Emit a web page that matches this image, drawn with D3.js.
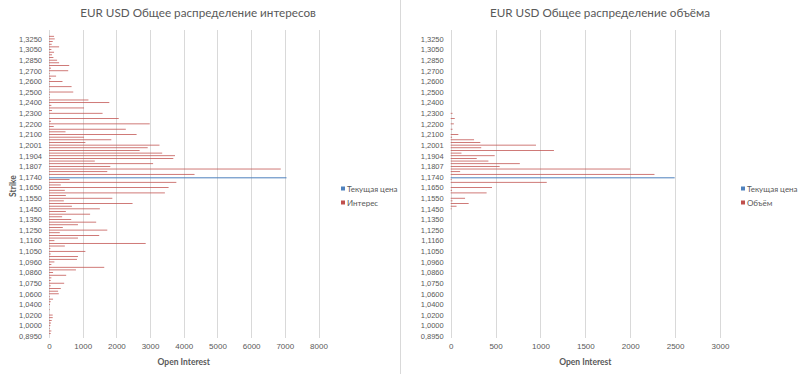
<!DOCTYPE html>
<html>
<head>
<meta charset="utf-8">
<script src="https://cdn.jsdelivr.net/npm/d3@7"></script>
<style>
  body { margin: 0; background: #fff; }
  svg { display: block; font-family: Lato, 'Open Sans', sans-serif; }
</style>
</head>
<body>
<svg></svg>
<script>

// strikes, bottom to top (only every 4th one is labelled on the axis)
const strikes = [
  '0,8950', '0,9500', '0,9800', '0,9900', '1,0000', '1,0050', '1,0100', '1,0150',
  '1,0200', '1,0250', '1,0300', '1,0350', '1,0400', '1,0450', '1,0500', '1,0550',
  '1,0600', '1,0650', '1,0700', '1,0725', '1,0750', '1,0775', '1,0800', '1,0830',
  '1,0860', '1,0880', '1,0900', '1,0930', '1,0960', '1,0980', '1,1000', '1,1025',
  '1,1050', '1,1080', '1,1100', '1,1130', '1,1160', '1,1180', '1,1200', '1,1225',
  '1,1250', '1,1275', '1,1300', '1,1325', '1,1350', '1,1375', '1,1400', '1,1425',
  '1,1450', '1,1475', '1,1500', '1,1525', '1,1550', '1,1575', '1,1600', '1,1625',
  '1,1650', '1,1675', '1,1700', '1,1720', '1,1740', '1,1750', '1,1770', '1,1790',
  '1,1807', '1,1830', '1,1850', '1,1880', '1,1904', '1,1930', '1,1950', '1,1980',
  '1,2001', '1,2025', '1,2050', '1,2075', '1,2100', '1,2125', '1,2150', '1,2175',
  '1,2200', '1,2225', '1,2250', '1,2275', '1,2300', '1,2325', '1,2350', '1,2375',
  '1,2400', '1,2425', '1,2450', '1,2475', '1,2500', '1,2525', '1,2550', '1,2575',
  '1,2600', '1,2625', '1,2650', '1,2675', '1,2700', '1,2750', '1,2800', '1,2825',
  '1,2850', '1,2900', '1,2950', '1,3000', '1,3050', '1,3100', '1,3150', '1,3200',
  '1,3250', '1,3300', '1,3350', '1,3400'
]

// open interest per strike (same order)
const interest = [
  0, 50, 70, 20, 40, 60, 80, 110,
  110, 0, 20, 0, 30, 50, 120, 20,
  290, 270, 350, 50, 450, 50, 70, 510,
  120, 800, 1640, 70, 160, 830, 860, 50,
  1080, 40, 470, 2870, 160, 860, 1490, 320,
  1730, 410, 860, 1400, 660, 390, 1220, 500,
  1510, 680, 2480, 440, 1880, 500, 3440, 470,
  3550, 350, 3780, 610, 0, 4320, 1730, 6880,
  1820, 3090, 1360, 3690, 3740, 3360, 2690, 2930,
  3280, 1080, 1850, 1040, 2600, 490, 2280, 140,
  2990, 60, 2070, 0, 1590, 90, 1040, 70,
  1790, 1170, 20, 20, 720, 10, 670, 20,
  400, 60, 210, 20, 570, 60, 600, 300,
  240, 130, 90, 150, 70, 300, 80, 110,
  170, 150, 0, 0
]

// volume per strike (same order)
const volume = [
  0, 0, 0, 0, 0, 0, 0, 0,
  0, 0, 0, 0, 0, 0, 0, 0,
  0, 0, 0, 0, 0, 0, 0, 0,
  0, 0, 0, 0, 0, 0, 0, 0,
  0, 0, 0, 0, 0, 0, 0, 0,
  0, 0, 0, 0, 0, 0, 0, 0,
  10, 65, 200, 20, 160, 0, 400, 15,
  460, 0, 1070, 10, 0, 2270, 105, 2000,
  545, 770, 420, 290, 490, 120, 1150, 340,
  950, 330, 260, 15, 85, 0, 20, 0,
  35, 0, 45, 0, 20, 0, 0, 0,
  0, 0, 0, 0, 0, 0, 0, 0,
  0, 0, 0, 0, 0, 0, 0, 0,
  0, 0, 0, 0, 0, 0, 0, 0,
  0, 0, 0, 0
]

// current price marker
const currentStrike = '1,1740'
const currentPriceInterest = 7050
const currentPriceVolume = 2495

const ticksInterest = [0, 1000, 2000, 3000, 4000, 5000, 6000, 7000, 8000]
const ticksVolume = [0, 500, 1000, 1500, 2000, 2500, 3000]

const RED = '#c0504d', BLUE = '#4f81bd', TEXT = '#595959', GRID = '#d9d9d9'

let svg = d3.select('svg').attr('width', 800).attr('height', 374)

svg.append('rect').attr('width', 800).attr('height', 374).attr('fill', '#fff')

// divider between the two charts
svg.append('line')
  .attr('x1', 400.5).attr('x2', 400.5)
  .attr('y1', 0).attr('y2', 374)
  .attr('stroke', GRID)

drawChart({
  title: 'EUR USD Общее распределение интересов',
  titleX: 198,
  left: 49, right: 318.5,
  values: interest, price: currentPriceInterest,
  ticks: ticksInterest,
  seriesName: 'Интерес',
  legendX: 341,
  yTitle: true
})

drawChart({
  title: 'EUR USD Общее распределение объёма',
  titleX: 600,
  left: 450.7, right: 720,
  values: volume, price: currentPriceVolume,
  ticks: ticksVolume,
  seriesName: 'Объём',
  legendX: 741,
  yTitle: false
})


function drawChart(cfg) {

  let top = 30, bottom = 338
  let g = svg.append('g')

  let x = d3.scaleLinear()
    .domain([0, cfg.ticks[cfg.ticks.length - 1]])
    .range([cfg.left, cfg.right])

  let y = d3.scaleBand()
    .domain(strikes)
    .range([bottom, top])

  let sub = d3.scaleBand()
    .domain(['value', 'price'])
    .range([0, y.bandwidth()])
    .paddingOuter(0.75)

  g.append('text')
    .attr('x', cfg.titleX).attr('y', 17)
    .attr('text-anchor', 'middle')
    .attr('font-size', 11.7)
    .attr('fill', TEXT)
    .text(cfg.title)

  // grid
  g.append('g')
    .selectAll('line')
    .data(cfg.ticks)
    .enter().append('line')
    .attr('x1', d => Math.round(x(d)) + 0.5)
    .attr('x2', d => Math.round(x(d)) + 0.5)
    .attr('y1', top).attr('y2', bottom)
    .attr('stroke', GRID)

  let xAxis = g.append('g')
    .attr('transform', 'translate(0,' + bottom + ')')
    .call(d3.axisBottom(x).tickValues(cfg.ticks).tickSize(0).tickPadding(5).tickFormat(d3.format('d')))
  xAxis.select('.domain').remove()
  xAxis.selectAll('text').attr('fill', TEXT).attr('font-size', 8)

  let yAxis = g.append('g')
    .attr('transform', 'translate(' + cfg.left + ',0)')
    .call(d3.axisLeft(y).tickValues(strikes.filter((d, i) => i % 4 === 0)).tickSize(0).tickPadding(7))
  yAxis.select('.domain').remove()
  yAxis.selectAll('text').attr('fill', TEXT).attr('font-size', 7.5)

  // bars
  g.append('g')
    .selectAll('rect')
    .data(strikes.map((s, i) => ({ strike: s, value: cfg.values[i] })).filter(d => d.value > 0))
    .enter().append('rect')
    .attr('x', x(0))
    .attr('y', d => y(d.strike) + sub('value'))
    .attr('width', d => x(d.value) - x(0))
    .attr('height', sub.bandwidth())
    .attr('fill', RED)

  g.append('rect')
    .attr('x', x(0))
    .attr('y', y(currentStrike) + sub('price') - 0.3)
    .attr('width', x(cfg.price) - x(0))
    .attr('height', sub.bandwidth() + 0.6)
    .attr('fill', BLUE)
    .attr('fill-opacity', 0.75)

  g.append('text')
    .attr('x', (cfg.left + cfg.right) / 2).attr('y', 365)
    .attr('text-anchor', 'middle')
    .attr('font-size', 8.5).attr('font-weight', 'bold')
    .attr('fill', TEXT)
    .text('Open Interest')

  if (cfg.yTitle) {
    g.append('text')
      .attr('transform', 'translate(16,186) rotate(-90)')
      .attr('text-anchor', 'middle')
      .attr('font-size', 8.5).attr('font-weight', 'bold')
      .attr('fill', TEXT)
      .text('Strike')
  }

  // legend
  let legend = g.append('g')
    .selectAll('g')
    .data([{ name: 'Текущая цена', color: BLUE }, { name: cfg.seriesName, color: RED }])
    .enter().append('g')
    .attr('transform', (d, i) => 'translate(' + cfg.legendX + ',' + (189 + i * 14) + ')')

  legend.append('rect')
    .attr('x', 0).attr('y', -2.5)
    .attr('width', 4).attr('height', 4)
    .attr('fill', d => d.color)

  legend.append('text')
    .attr('x', 6).attr('y', 0)
    .attr('dy', '0.35em')
    .attr('font-size', 8)
    .attr('fill', TEXT)
    .text(d => d.name)
}

</script>
</body>
</html>
